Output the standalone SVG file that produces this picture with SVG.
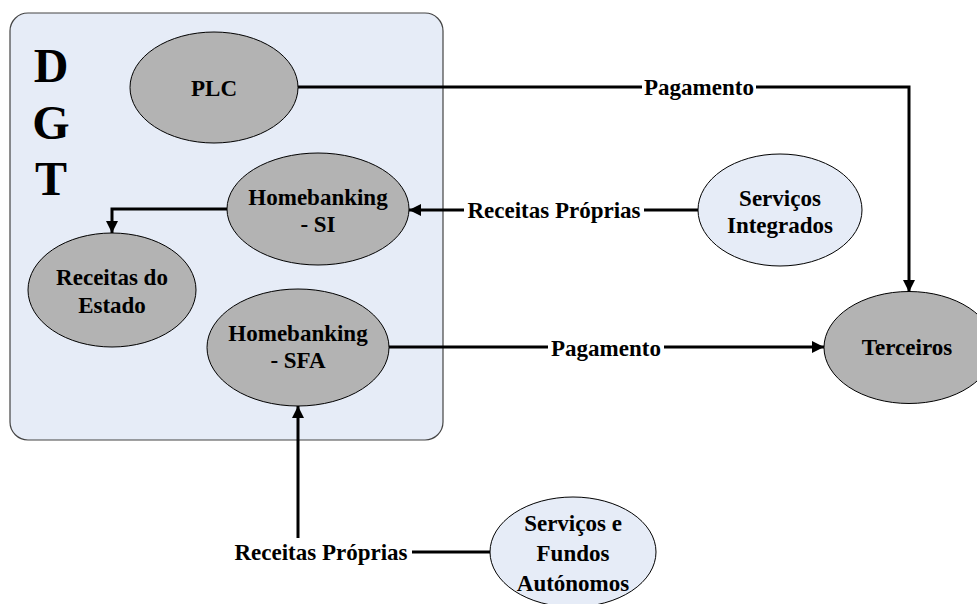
<svg xmlns="http://www.w3.org/2000/svg" width="977" height="604" viewBox="0 0 977 604">
<defs>
<style>
.dark{fill:#b3b3b3;stroke:#000;stroke-width:1}
.light{fill:#e6ecf7;stroke:#000;stroke-width:1}
text{font-family:'Liberation Serif','Times New Roman',Times,'DejaVu Serif','Noto Serif',serif;font-weight:bold;font-size:23px;fill:#000;text-anchor:middle}
.big{font-size:48px}
.con{fill:none;stroke:#000;stroke-width:3}
.lbl{fill:#fff}
</style>
<marker id="arr" viewBox="0 0 12 12" refX="12" refY="6" markerWidth="12" markerHeight="12" markerUnits="userSpaceOnUse" orient="auto">
<path d="M0,0 L12,6 L0,12 Z" fill="#000"/>
</marker>
</defs>
<rect width="977" height="604" fill="#fff"/>
<g id="dgt">
<rect x="10" y="13" width="433" height="427" rx="18" ry="18" fill="#e6ecf7" stroke="#444" stroke-width="1.2"/>
<text class="big" x="51" y="82" font-family="Liberation Serif, serif">D</text>
<text class="big" x="51" y="139" font-family="Liberation Serif, serif">G</text>
<text class="big" x="51" y="195" font-family="Liberation Serif, serif">T</text>
</g>
<g id="connectors">
<path class="con" d="M298,87 H909 V292" marker-end="url(#arr)"/>
<rect class="lbl" x="642" y="74" width="114" height="26"/>
<text x="699" y="95">Pagamento</text>
<path class="con" d="M698,210 H409" marker-end="url(#arr)"/>
<rect class="lbl" x="464" y="197" width="180" height="26"/>
<text x="554" y="218">Receitas Próprias</text>
<path class="con" d="M227,209 H112 V233" marker-end="url(#arr)"/>
<path class="con" d="M389,347 H824" marker-end="url(#arr)"/>
<rect class="lbl" x="548" y="335" width="116" height="26"/>
<text x="606" y="356">Pagamento</text>
<path class="con" d="M490,552 H298 V406" marker-end="url(#arr)"/>
<rect class="lbl" x="230" y="538" width="182" height="28"/>
<text x="321" y="560">Receitas Próprias</text>
</g>
<g id="plc">
<ellipse class="dark" cx="214" cy="87.5" rx="84" ry="55.5"/>
<text x="214" y="96">PLC</text>
</g>
<g id="hb-si">
<ellipse class="dark" cx="318" cy="209" rx="91" ry="56"/>
<text x="318" y="205">Homebanking</text>
<text x="318" y="232">- SI</text>
</g>
<g id="receitas-estado">
<ellipse class="dark" cx="112" cy="290" rx="84" ry="57"/>
<text x="112" y="285">Receitas do</text>
<text x="112" y="313">Estado</text>
</g>
<g id="hb-sfa">
<ellipse class="dark" cx="298" cy="347.5" rx="91" ry="58.5"/>
<text x="298" y="341">Homebanking</text>
<text x="298" y="368">- SFA</text>
</g>
<g id="servicos-integrados">
<ellipse class="light" cx="780" cy="210" rx="82" ry="56"/>
<text x="780" y="206">Serviços</text>
<text x="780" y="233">Integrados</text>
</g>
<g id="terceiros">
<ellipse class="dark" cx="909" cy="347.5" rx="85" ry="56"/>
<text x="907" y="355">Terceiros</text>
</g>
<g id="sfa">
<ellipse class="light" cx="573" cy="552" rx="83" ry="55"/>
<text x="573" y="531">Serviços e</text>
<text x="573" y="561">Fundos</text>
<text x="573" y="591">Autónomos</text>
</g>
</svg>
